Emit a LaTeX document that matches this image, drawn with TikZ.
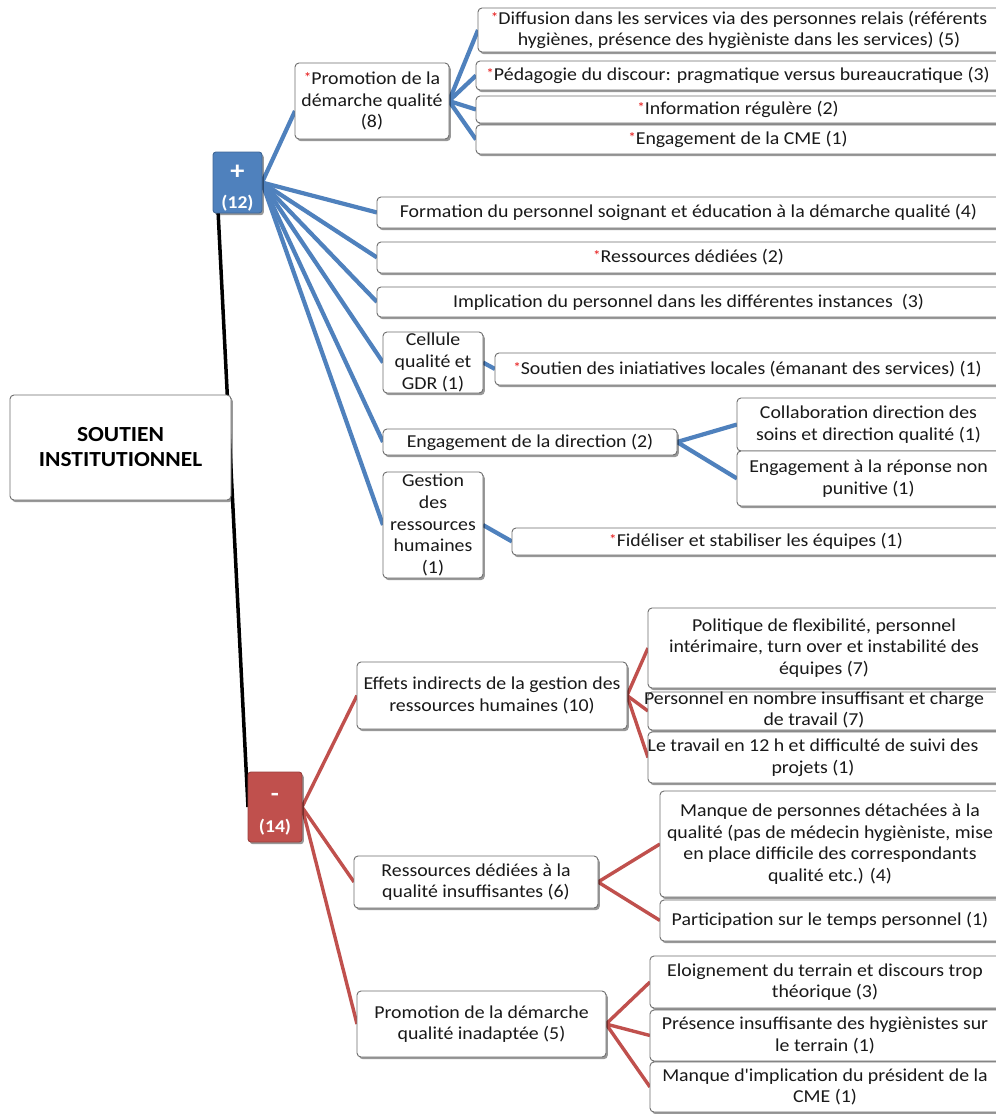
\documentclass[tikz,border=0pt]{standalone}
\usepackage{fontspec}
\setmainfont{Carlito}[FakeStretch=1.09]
\usetikzlibrary{shadows,backgrounds}

\definecolor{posblue}{RGB}{79,129,189}
\definecolor{negred}{RGB}{192,80,77}
\definecolor{boxline}{RGB}{110,110,110}
\definecolor{starred}{RGB}{230,20,20}
\definecolor{ink}{RGB}{25,25,25}

% small red marker in front of some items
\newcommand\mk{{\color{starred}\fontsize{14}{14}\selectfont\raisebox{2pt}{*}}}

\tikzset{
  box/.style={draw=boxline, line width=0.9pt, fill=white, rounded corners=4pt,
    inner sep=0pt, outer sep=0pt,
    drop shadow={shadow xshift=1.8pt, shadow yshift=-2.2pt, fill=black, opacity=0.4}},
  txt/.style={align=center, text=ink, font=\fontsize{18.2}{21.7}\selectfont, inner sep=0pt},
  posline/.style={draw=posblue, line width=4.2pt},
  negline/.style={draw=negred, line width=3.4pt},
  spine/.style={draw=black, line width=3.5pt},
}

% box: name, centre x, centre y, width, height, text
\newcommand\bx[6]{%
  \node[box, minimum width=#4pt, minimum height=#5pt] (#1) at (#2,#3) {};
  \node[txt] at (#1.center) {#6};}

\begin{document}
\begin{tikzpicture}[x=1pt, y=-1pt]
\useasboundingbox (0,0) rectangle (996,1114);
\clip (0,0) rectangle (996,1114);

% root
\node[box, minimum width=221pt, minimum height=105pt] (root) at (120.5,447.5) {};
\node[txt, text=black, font=\fontsize{21.5}{25}\selectfont\bfseries] at (root.center) {SOUTIEN\\INSTITUTIONNEL};

% positive / negative hubs
\node[box, draw=posblue!80!black, fill=posblue, rounded corners=3pt,
      minimum width=49pt, minimum height=61pt] (plus) at (237.5,182.5) {};
\node[txt, text=white, font=\fontsize{26}{26}\selectfont\bfseries] at (237.5,172) {+};
\node[txt, text=white, font=\fontsize{18}{18}\selectfont\bfseries] at (237.5,203) {(12)};
\node[box, draw=negred!80!black, fill=negred, rounded corners=3pt,
      minimum width=54pt, minimum height=70pt] (minus) at (275,807) {};
\node[txt, text=white, font=\fontsize{24}{24}\selectfont\bfseries] at (275,797) {-};
\node[txt, text=white, font=\fontsize{18}{18}\selectfont\bfseries] at (275,827) {(14)};

% positive branch
\bx{pa}{372}{101}{154}{76}{\mk Promotion de la\\démarche qualité\\(8)}
\bx{paa}{739}{30}{522}{44}{\mk Diffusion dans les services via des personnes relais (référents\\hygiènes, présence des hygièniste dans les services) (5)}
\bx{pab}{738}{75.5}{524}{29}{\mk Pédagogie du discour: pragmatique versus bureaucratique (3)}
\bx{pac}{738}{109.5}{524}{27}{\mk Information régulère (2)}
\bx{pad}{738}{139.5}{524}{29}{\mk Engagement de la CME (1)}
\bx{pb}{688.5}{212.5}{623}{31}{Formation du personnel soignant et éducation à la démarche qualité (4)}
\bx{pc}{688.5}{257.5}{623}{31}{\mk Ressources dédiées (2)}
\bx{pd}{688.5}{302}{623}{30}{Implication du personnel dans les différentes instances\ \ (3)}
\bx{pe}{433}{362.5}{100}{61}{Cellule\\qualité et\\GDR (1)}
\bx{pea}{747.5}{369}{505}{32}{\mk Soutien des iniatiatives locales (émanant des services) (1)}
\bx{pf}{530}{442}{294}{26}{Engagement de la direction (2)}
\bx{pfa}{868.5}{424.5}{263}{53}{Collaboration direction des\\soins et direction qualité (1)}
\bx{pfb}{868.5}{478.5}{263}{55}{Engagement à la réponse non\\punitive (1)}
\bx{pg}{433}{525}{100}{106}{Gestion\\des\\ressources\\humaines\\(1)}
\bx{pga}{756}{541.5}{488}{27}{\mk Fidéliser et stabiliser les équipes (1)}

% negative branch
\bx{ma}{492}{695.5}{270}{67}{Effets indirects de la gestion des\\ressources humaines (10)}
\bx{maa}{824}{648}{352}{80}{Politique de flexibilité, personnel\\intérimaire, turn over et instabilité des\\équipes (7)}
\node[box, minimum width=352pt, minimum height=38pt] (mab) at (824,711) {};
\node[txt] at (814,710) {Personnel en nombre insuffisant et charge\\de travail (7)};
\node[box, minimum width=352pt, minimum height=51pt] (mac) at (824,757.5) {};
\node[txt] at (813,757.5) {Le travail en 12 h et difficulté de suivi des\\projets (1)};
\bx{mb}{476}{882}{244}{52}{Ressources dédiées à la\\qualité insuffisantes (6)}
\bx{mba}{830}{844}{340}{106}{Manque de personnes détachées à la\\qualité (pas de médecin hygièniste, mise\\en place difficile des correspondants\\qualité etc.) (4)}
\bx{mbb}{830}{920.5}{340}{41}{Participation sur le temps personnel (1)}
\bx{mc}{481.5}{1024}{249}{66}{Promotion de la démarche\\qualité inadaptée (5)}
\bx{mca}{825}{982}{350}{52}{Eloignement du terrain et discours trop\\théorique (3)}
\bx{mcb}{825}{1035.5}{350}{51}{Présence insuffisante des hygiènistes sur\\le terrain (1)}
\bx{mcc}{825}{1087}{350}{50}{Manque d\textquotesingle implication du président de la\\CME (1)}

% connectors
\begin{scope}[on background layer]
  \fill[white] (0,0) rectangle (996,1114);
  \draw[spine] ([xshift=5pt,yshift=3pt]plus.south west) -- (minus.west);
  \draw[posline] (plus.east) -- ([yshift=-10pt]pa.west);
  \foreach \n in {pb,pc,pd,pe,pf,pg} \draw[posline] (plus.east) -- (\n.west);
  \foreach \n in {paa,pab,pac,pad} \draw[posline] (pa.east) -- (\n.west);
  \draw[posline] (pe.east) -- (pea.west);
  \foreach \n in {pfa,pfb} \draw[posline] (pf.east) -- (\n.west);
  \draw[posline] (pg.east) -- (pga.west);
  \foreach \n in {ma,mb,mc} \draw[negline] (minus.east) -- (\n.west);
  \foreach \n in {maa,mab,mac} \draw[negline] (ma.east) -- (\n.west);
  \foreach \n in {mba,mbb} \draw[negline] (mb.east) -- (\n.west);
  \foreach \n in {mca,mcb,mcc} \draw[negline] (mc.east) -- (\n.west);
\end{scope}
\end{tikzpicture}
\end{document}
